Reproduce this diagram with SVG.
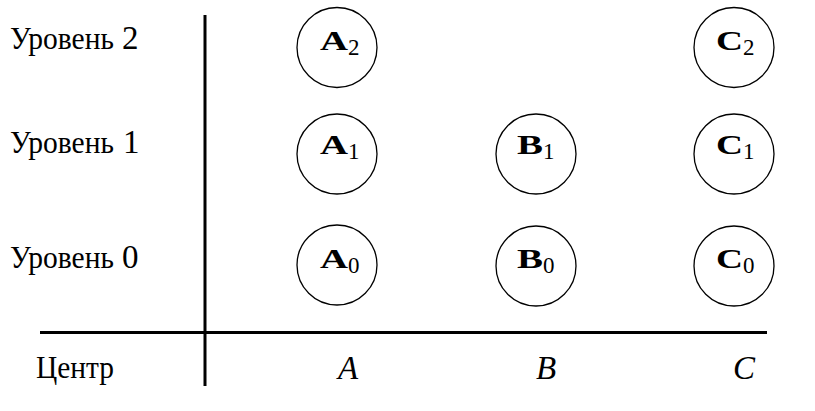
<svg xmlns="http://www.w3.org/2000/svg" width="815" height="411" viewBox="0 0 815 411">
<style>
.node circle{fill:#fff;stroke:#000;stroke-width:1.3}
.nl{font-family:"Liberation Serif","DejaVu Serif",serif;font-weight:bold;font-size:27px;fill:#000}
.sub{font-family:"Liberation Serif","DejaVu Serif",serif;font-size:23px;fill:#000}
.lv{font-family:"Liberation Serif","DejaVu Serif",serif;font-size:31px;fill:#000}
.dg{font-family:"Liberation Serif","DejaVu Serif",serif;font-size:33px;fill:#000}
.ax{font-family:"Liberation Serif","DejaVu Serif",serif;font-style:italic;font-size:33px;fill:#000}
.axis{stroke:#000;stroke-width:3}
</style>
<rect width="815" height="411" fill="#fff"/>
<g id="axes">
<line class="axis" x1="205" y1="15" x2="205" y2="386"/>
<line class="axis" x1="40" y1="332.5" x2="767" y2="332.5"/>
</g>
<g id="labels">
<text class="lv" x="10" y="49" textLength="104" lengthAdjust="spacingAndGlyphs">Уровень</text><text class="dg" x="122" y="49">2</text>
<text class="lv" x="10" y="153" textLength="104" lengthAdjust="spacingAndGlyphs">Уровень</text><text class="dg" x="123" y="153">1</text>
<text class="lv" x="10" y="268" textLength="104" lengthAdjust="spacingAndGlyphs">Уровень</text><text class="dg" x="122" y="268">0</text>
<text class="lv" x="36" y="378" textLength="78" lengthAdjust="spacingAndGlyphs">Центр</text>
<text class="ax" x="338" y="379">A</text>
<text class="ax" x="536" y="379">B</text>
<text class="ax" x="733" y="379">C</text>
</g>
<g id="connectors"></g>
<g id="A2" class="node"><circle cx="337" cy="47.5" r="40"/><text class="nl" x="320" y="50" textLength="28" lengthAdjust="spacingAndGlyphs">A</text><text class="sub" x="348" y="55">2</text></g>
<g id="A1" class="node"><circle cx="337" cy="154" r="40"/><text class="nl" x="320" y="154" textLength="28" lengthAdjust="spacingAndGlyphs">A</text><text class="sub" x="348" y="159">1</text></g>
<g id="A0" class="node"><circle cx="337" cy="265" r="40"/><text class="nl" x="320" y="268" textLength="28" lengthAdjust="spacingAndGlyphs">A</text><text class="sub" x="348" y="273">0</text></g>
<g id="B1" class="node"><circle cx="536" cy="154" r="40"/><text class="nl" x="517" y="154" textLength="26" lengthAdjust="spacingAndGlyphs">B</text><text class="sub" x="543" y="159">1</text></g>
<g id="B0" class="node"><circle cx="536" cy="266" r="40"/><text class="nl" x="517" y="268" textLength="26" lengthAdjust="spacingAndGlyphs">B</text><text class="sub" x="543" y="273">0</text></g>
<g id="C2" class="node"><circle cx="734" cy="47.5" r="40"/><text class="nl" x="716" y="50" textLength="27" lengthAdjust="spacingAndGlyphs">C</text><text class="sub" x="743" y="55">2</text></g>
<g id="C1" class="node"><circle cx="734" cy="154" r="40"/><text class="nl" x="716" y="154" textLength="27" lengthAdjust="spacingAndGlyphs">C</text><text class="sub" x="743" y="159">1</text></g>
<g id="C0" class="node"><circle cx="734" cy="266" r="40"/><text class="nl" x="716" y="268" textLength="27" lengthAdjust="spacingAndGlyphs">C</text><text class="sub" x="743" y="273">0</text></g>
</svg>
